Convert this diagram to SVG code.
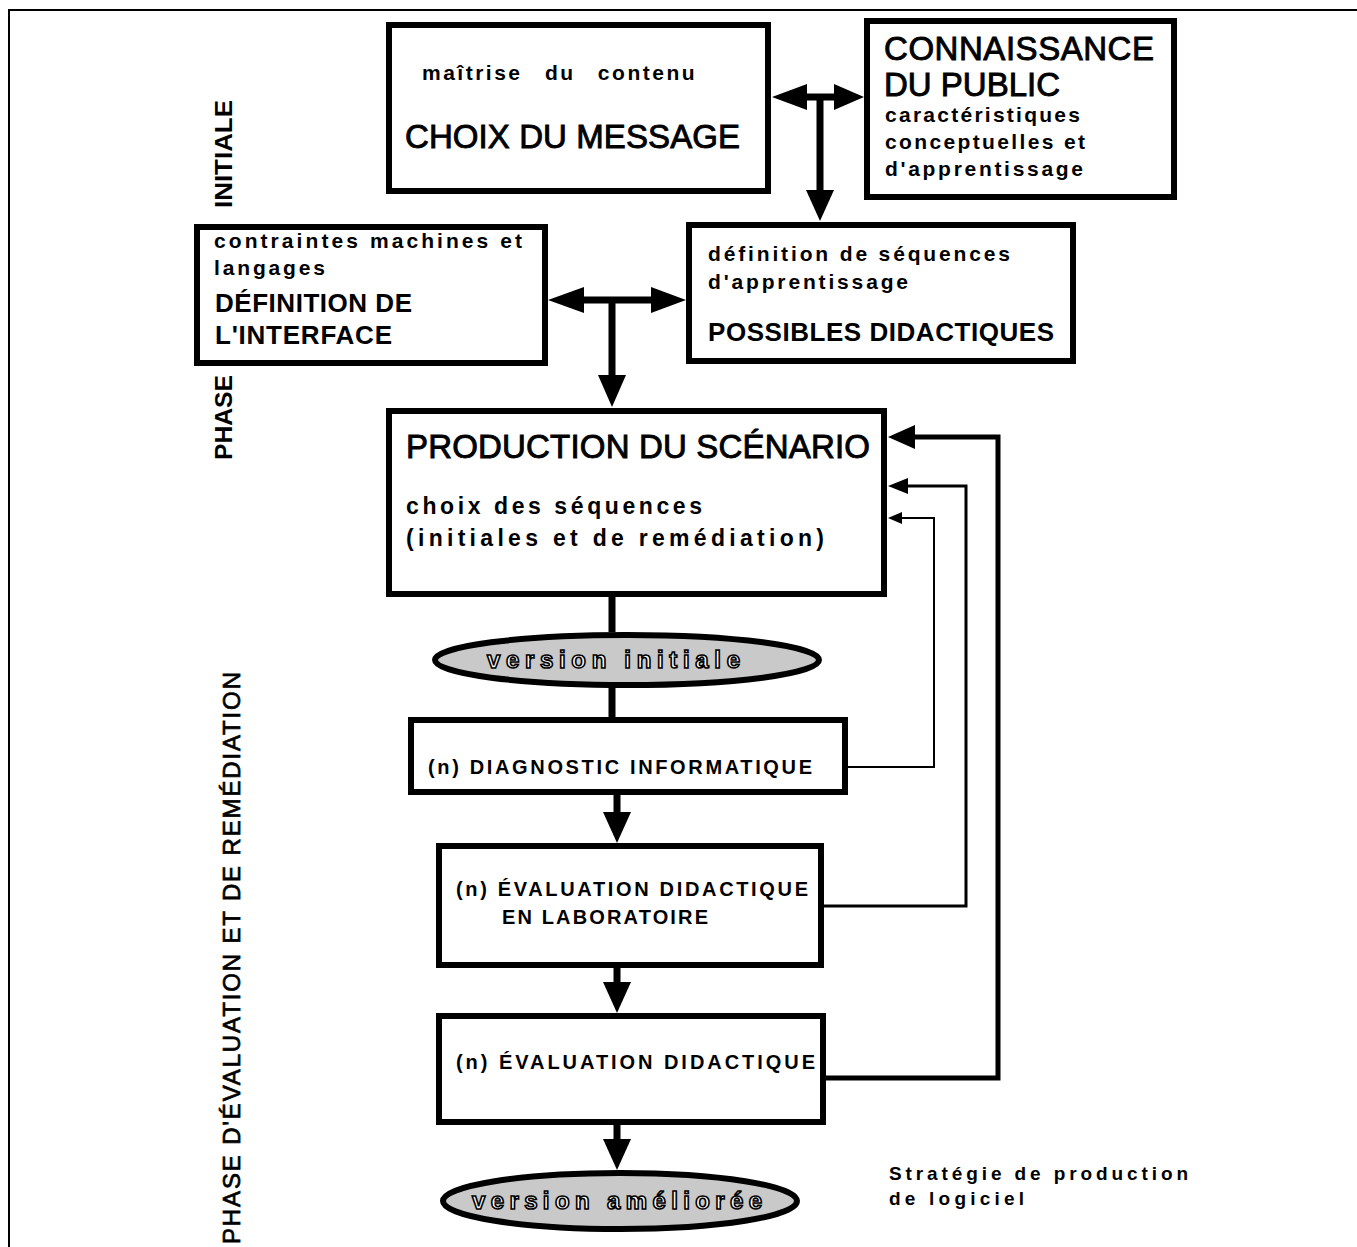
<svg xmlns="http://www.w3.org/2000/svg" width="1357" height="1247" viewBox="0 0 1357 1247">
<style>
text{font-family:"Liberation Sans",Arial,sans-serif;fill:#000}
.box{fill:#fff;stroke:#000;stroke-width:6}
.oval{fill:#c9c9c9;stroke:#000;stroke-width:6}
.h{font-size:33px;stroke:#000;stroke-width:0.9}
.m{font-size:26px;font-weight:bold}
.s{font-size:21px;font-weight:bold}
.c{font-size:20px;font-weight:bold}
.s2{font-size:23px;font-weight:bold}
.o{font-size:24px;font-weight:bold;fill:#fff;stroke:#000;stroke-width:1.6}
.v{font-size:24px;font-weight:bold}
.shaft{fill:none;stroke:#000;stroke-width:7}
.head{fill:#000}
.fb{fill:none;stroke:#000}
</style>
<rect width="1357" height="1247" fill="#fff"/>
<g id="frame">
<path d="M9,1247 V10 H1357" fill="none" stroke="#000" stroke-width="2"/>
</g>
<g id="labels">
<text class="v" transform="translate(232,208) rotate(-90)" textLength="108" lengthAdjust="spacingAndGlyphs">INITIALE</text>
<text class="v" transform="translate(232,460) rotate(-90)" textLength="85" lengthAdjust="spacingAndGlyphs">PHASE</text>
<text style="font-size:24px;stroke:#000;stroke-width:0.7" transform="translate(240,1244) rotate(-90)" textLength="572" lengthAdjust="spacing">PHASE D'ÉVALUATION ET DE REMÉDIATION</text>
<text class="s" style="font-size:19px" x="889" y="1180" textLength="299" lengthAdjust="spacing">Stratégie de production</text>
<text class="s" style="font-size:19px" x="889" y="1205" textLength="135" lengthAdjust="spacing">de logiciel</text>
</g>
<g id="connectors">
<path class="shaft" d="M800,97 H841 M820,97 V195"/>
<polygon class="head" points="772,97 807,84 807,110"/>
<polygon class="head" points="864,97 834,84 834,110"/>
<polygon class="head" points="820,221 806,190 834,190"/>
<path class="shaft" d="M578,300 H658 M612,300 V380"/>
<polygon class="head" points="548,300 584,287 584,313"/>
<polygon class="head" points="686,300 651,287 651,313"/>
<polygon class="head" points="612,407 598,375 626,375"/>
<path class="shaft" d="M612,597 V632 M612,688 V717"/>
<path class="shaft" d="M617,795 V815 M617,968 V985 M617,1125 V1142"/>
<polygon class="head" points="617,843 603,812 631,812"/>
<polygon class="head" points="617,1013 603,982 631,982"/>
<polygon class="head" points="617,1170 603,1139 631,1139"/>
<path class="fb" stroke-width="2" d="M848,767 H934 V518 H898"/>
<polygon class="head" points="888,518 902,512 902,524"/>
<path class="fb" stroke-width="3" d="M824,906 H966 V486 H904"/>
<polygon class="head" points="888,486 908,478 908,494"/>
<path class="fb" stroke-width="5" d="M826,1078 H998 V437 H910"/>
<polygon class="head" points="888,437 915,425 915,449"/>
</g>
<g id="choix">
<rect class="box" x="389" y="25" width="379" height="166"/>
<text class="s" x="422" y="80" style="letter-spacing:2.5px;word-spacing:14px">maîtrise du contenu</text>
<text class="h" x="405" y="148" textLength="335" lengthAdjust="spacing">CHOIX DU MESSAGE</text>
</g>
<g id="connaissance">
<rect class="box" x="867" y="21" width="307" height="176"/>
<text class="h" x="884" y="60" textLength="270" lengthAdjust="spacing">CONNAISSANCE</text>
<text class="h" x="884" y="96">DU PUBLIC</text>
<text class="s" x="885" y="122" textLength="195" lengthAdjust="spacing">caractéristiques</text>
<text class="s" x="885" y="149" textLength="200" lengthAdjust="spacing">conceptuelles et</text>
<text class="s" x="885" y="176" textLength="198" lengthAdjust="spacing">d'apprentissage</text>
</g>
<g id="interface">
<rect class="box" x="197" y="227" width="348" height="136"/>
<text class="s" x="214" y="248" textLength="308" lengthAdjust="spacing">contraintes machines et</text>
<text class="s" x="214" y="275" textLength="111" lengthAdjust="spacing">langages</text>
<text class="m" x="215" y="312" textLength="197" lengthAdjust="spacing">DÉFINITION DE</text>
<text class="m" x="215" y="344" textLength="177" lengthAdjust="spacing">L'INTERFACE</text>
</g>
<g id="possibles">
<rect class="box" x="689" y="225" width="384" height="136"/>
<text class="s" x="708" y="261" textLength="302" lengthAdjust="spacing">définition de séquences</text>
<text class="s" x="708" y="289" textLength="200" lengthAdjust="spacing">d'apprentissage</text>
<text class="m" x="708" y="341" textLength="346" lengthAdjust="spacing">POSSIBLES DIDACTIQUES</text>
</g>
<g id="production">
<rect class="box" x="389" y="411" width="495" height="183"/>
<text class="h" x="406" y="458" textLength="464" lengthAdjust="spacing">PRODUCTION DU SCÉNARIO</text>
<text class="s2" x="406" y="514" textLength="296" lengthAdjust="spacing">choix des séquences</text>
<text class="s2" x="406" y="546" textLength="418" lengthAdjust="spacing">(initiales et de remédiation)</text>
</g>
<g id="version-initiale">
<ellipse class="oval" cx="627" cy="660" rx="192" ry="25"/>
<text class="o" x="487" y="668" textLength="253" lengthAdjust="spacing">version initiale</text>
</g>
<g id="diagnostic">
<rect class="box" x="411" y="720" width="434" height="72"/>
<text class="c" x="428" y="774" textLength="384" lengthAdjust="spacing">(n) DIAGNOSTIC INFORMATIQUE</text>
</g>
<g id="evaluation-labo">
<rect class="box" x="439" y="846" width="382" height="119"/>
<text class="c" x="456" y="896" textLength="352" lengthAdjust="spacing">(n) ÉVALUATION DIDACTIQUE</text>
<text class="c" x="502" y="924" textLength="206" lengthAdjust="spacing">EN LABORATOIRE</text>
</g>
<g id="evaluation">
<rect class="box" x="439" y="1016" width="384" height="106"/>
<text class="c" x="456" y="1069" textLength="359" lengthAdjust="spacing">(n) ÉVALUATION DIDACTIQUE</text>
</g>
<g id="version-amelioree">
<ellipse class="oval" cx="620" cy="1201" rx="177" ry="28"/>
<text class="o" x="472" y="1209" textLength="290" lengthAdjust="spacing">version améliorée</text>
</g>
</svg>
